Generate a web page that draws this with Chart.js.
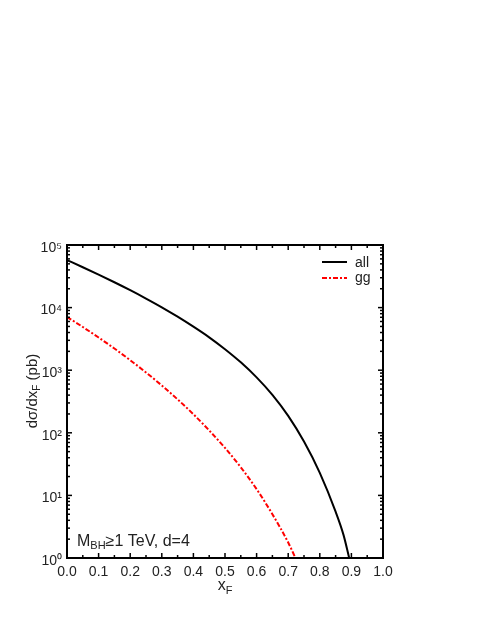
<!DOCTYPE html>
<html>
<head>
<meta charset="utf-8">
<script src="https://cdn.jsdelivr.net/npm/chart.js@4/dist/chart.umd.min.js"></script>
<style>
  html, body { margin: 0; padding: 0; background: #fff; }
  #wrap { width: 485px; height: 627px; }
</style>
</head>
<body>
<div id="wrap"><canvas id="c" width="485" height="627"></canvas></div>
<script>
// ---- data ----
const xAll = [0, 0.05, 0.1, 0.15, 0.2, 0.25, 0.3, 0.35, 0.4, 0.45, 0.5, 0.55, 0.6, 0.65, 0.7, 0.75, 0.8, 0.85, 0.875, 0.893];
const yAll = [57500, 44160, 33650, 25410, 18970, 13960, 10120, 7160, 4955, 3350, 2163, 1334, 767, 403, 186, 72.4, 22.9, 5.5, 2.34, 1.0];
const xGG = [0, 0.05, 0.1, 0.15, 0.2, 0.25, 0.3, 0.35, 0.4, 0.45, 0.5, 0.55, 0.6, 0.65, 0.7, 0.723];
const yGG = [7080, 4898, 3327, 2218, 1445, 920, 570, 342, 198, 109, 57.4, 28.1, 12.6, 5.0, 1.77, 1.0];
const xTickValues = [0, 0.1, 0.2, 0.3, 0.4, 0.5, 0.6, 0.7, 0.8, 0.9, 1.0];
const yTickValues = [1, 10, 100, 1000, 10000, 100000];
const seriesNames = ['all', 'gg'];
const annotationText = { main: 'M', sub: 'BH', rest: '≥1 TeV, d=4' };

const SUP = ['⁰','¹','²','³','⁴','⁵','⁶','⁷','⁸','⁹'];
const FONT = 'Liberation Sans, Arial, sans-serif';
const TXT = '#222';

const frame = {
  id: 'frame',
  afterDraw(chart) {
    const ctx = chart.ctx, a = chart.chartArea;
    const xs = chart.scales.x, ys = chart.scales.y;
    ctx.save();
    ctx.strokeStyle = '#000';
    // inside tick marks
    ctx.lineWidth = 1.5;
    const tick = (x1, y1, x2, y2) => { ctx.beginPath(); ctx.moveTo(x1, y1); ctx.lineTo(x2, y2); ctx.stroke(); };
    for (let i = 0; i <= 20; i++) {
      const v = i * 0.05;
      const px = xs.getPixelForValue(v);
      const len = (i % 2 === 0) ? 5 : 3;
      tick(px, a.bottom, px, a.bottom - len);
      tick(px, a.top, px, a.top + len);
    }
    for (let d = 0; d < 5; d++) {
      for (let m = 1; m <= 9; m++) {
        const v = m * Math.pow(10, d);
        const py = ys.getPixelForValue(v);
        const len = (m === 1) ? 5 : 3;
        tick(a.left, py, a.left + len, py);
        tick(a.right, py, a.right - len, py);
      }
    }
    // box
    ctx.lineWidth = 2;
    ctx.strokeRect(a.left, a.top, a.right - a.left, a.bottom - a.top);

    // legend
    const lx1 = 322, lx2 = 347, tx = 355;
    ctx.lineWidth = 2;
    ctx.strokeStyle = '#000';
    ctx.setLineDash([]);
    tick(lx1, 262, lx2, 262);
    ctx.strokeStyle = '#ff0000';
    ctx.setLineDash([5, 2, 2, 2]);
    tick(lx1, 278, lx2, 278);
    ctx.setLineDash([]);
    ctx.fillStyle = TXT;
    ctx.font = '14px ' + FONT;
    ctx.textAlign = 'left';
    ctx.textBaseline = 'alphabetic';
    ctx.fillText(seriesNames[0], tx, 267);
    ctx.fillText(seriesNames[1], tx, 282);

    // annotation
    let x = 77, base = 546;
    ctx.font = '16px ' + FONT;
    ctx.fillText(annotationText.main, x, base);
    x += ctx.measureText(annotationText.main).width;
    ctx.font = '11px ' + FONT;
    ctx.fillText(annotationText.sub, x, base + 3);
    x += ctx.measureText(annotationText.sub).width;
    ctx.font = '16px ' + FONT;
    ctx.fillText(annotationText.rest, x, base);

    // x axis title
    ctx.font = '16px ' + FONT;
    const wx = ctx.measureText('x').width;
    ctx.font = '11px ' + FONT;
    const wF = ctx.measureText('F').width;
    let sx = (a.left + a.right) / 2 - (wx + wF) / 2;
    ctx.font = '16px ' + FONT;
    ctx.fillText('x', sx, 590);
    ctx.font = '11px ' + FONT;
    ctx.fillText('F', sx + wx, 594);

    // y axis title (rotated)
    ctx.translate(37, 391);
    ctx.rotate(-Math.PI / 2);
    const parts = [['dσ/dx', 15, 0], ['F', 10, 3], [' (pb)', 15, 0]];
    let total = 0;
    parts.forEach(p => { ctx.font = p[1] + 'px ' + FONT; total += ctx.measureText(p[0]).width; });
    let cx = -total / 2;
    parts.forEach(p => {
      ctx.font = p[1] + 'px ' + FONT;
      ctx.fillText(p[0], cx, p[2]);
      cx += ctx.measureText(p[0]).width;
    });
    ctx.restore();
  }
};

new Chart(document.getElementById('c'), {
  type: 'line',
  data: {
    datasets: [
      {
        label: seriesNames[0],
        data: xAll.map((x, i) => ({ x: x, y: yAll[i] })),
        borderColor: '#000000',
        borderWidth: 2,
        pointRadius: 0,
        cubicInterpolationMode: 'monotone',
        fill: false
      },
      {
        label: seriesNames[1],
        data: xGG.map((x, i) => ({ x: x, y: yGG[i] })),
        borderColor: '#ff0000',
        borderWidth: 2,
        borderDash: [5, 2, 2, 2],
        pointRadius: 0,
        cubicInterpolationMode: 'monotone',
        fill: false
      }
    ]
  },
  options: {
    responsive: false,
    animation: false,
    layout: { padding: { left: 0, right: 102, top: 245, bottom: 0 } },
    plugins: { legend: { display: false }, tooltip: { enabled: false } },
    scales: {
      x: {
        type: 'linear',
        min: 0, max: 1,
        afterBuildTicks: s => { s.ticks = xTickValues.map(v => ({ value: v })); },
        afterFit: s => { s.height = 69; },
        grid: { display: false, drawTicks: false },
        border: { display: false },
        ticks: {
          autoSkip: false, maxRotation: 0, padding: 6,
          color: TXT, font: { family: FONT, size: 14 },
          callback: v => Number(v).toFixed(1)
        }
      },
      y: {
        type: 'logarithmic',
        min: 1, max: 100000,
        afterBuildTicks: s => { s.ticks = yTickValues.map(v => ({ value: v })); },
        afterFit: s => { s.width = 67; },
        grid: { display: false, drawTicks: false },
        border: { display: false },
        ticks: {
          autoSkip: false, padding: 5, labelOffset: 3,
          color: TXT, font: { family: FONT, size: 14 },
          callback: v => '10' + SUP[Math.round(Math.log10(v))]
        }
      }
    }
  },
  plugins: [frame]
});
</script>
</body>
</html>
